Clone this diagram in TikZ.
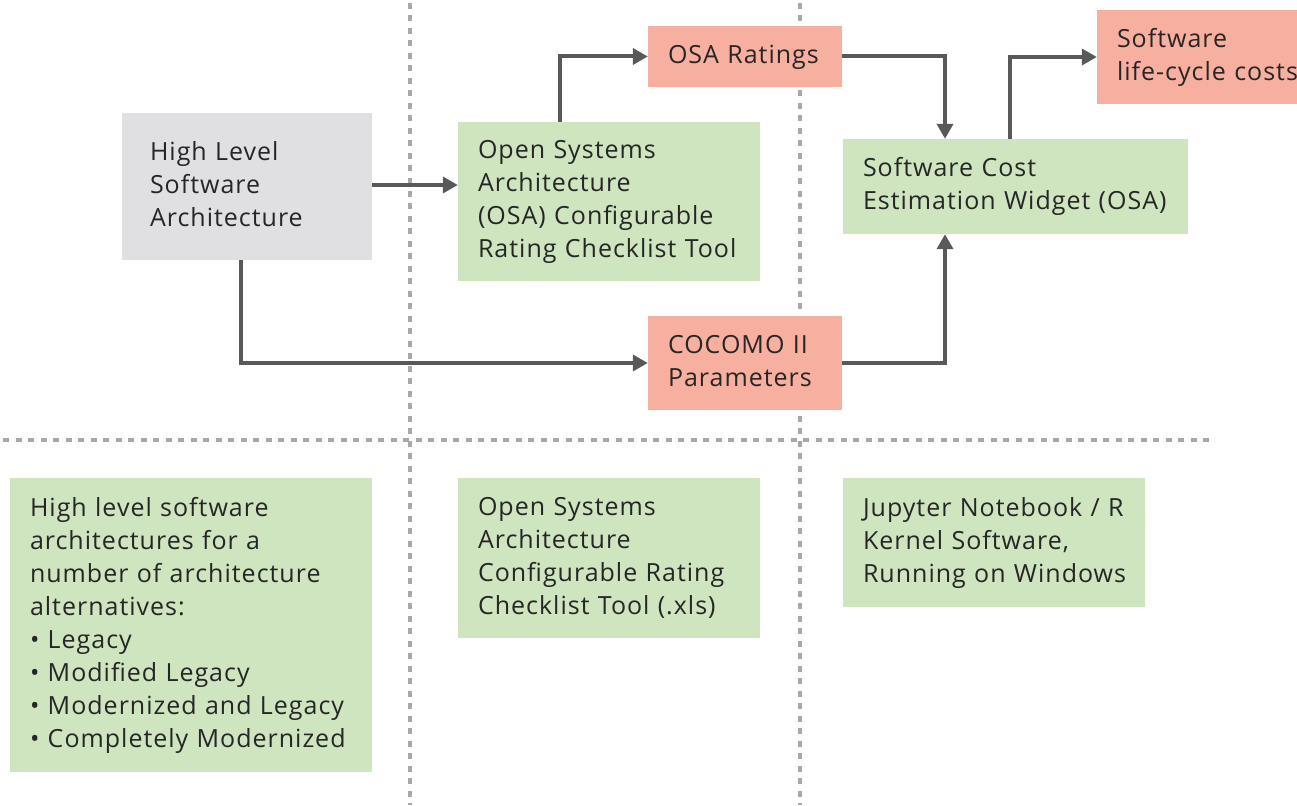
\documentclass[tikz,border=0pt]{standalone}
\usepackage{fontspec}
\setmainfont[LetterSpace=4]{Open Sans}
\usetikzlibrary{arrows.meta}
\definecolor{boxgray}{HTML}{E0E0E2}
\definecolor{boxgreen}{HTML}{CEE5BF}
\definecolor{boxred}{HTML}{F7AF9F}
\definecolor{arrcol}{HTML}{595959}
\definecolor{dotcol}{HTML}{A8A8A8}
\definecolor{txt}{HTML}{262626}
\newcommand{\lines}[1]{\begin{tabular}{@{}l@{}}#1\end{tabular}}
\tikzset{
  box/.style={rectangle, inner xsep=20pt, inner ysep=0pt, align=left, text=txt,
    font=\fontsize{25}{33}\selectfont},
  arr/.style={draw=arrcol, line width=4pt, -{Triangle[length=15pt,width=16pt]}},
  sep/.style={draw=dotcol, line width=4.5pt, dash pattern=on 6pt off 6.5pt},
}
\begin{document}
\begin{tikzpicture}[x=1pt,y=-1pt]
\useasboundingbox (0,0) rectangle (1297,805);
% separators
\draw[sep] (410,3) -- (410,805);
\draw[sep] (800,3) -- (800,805);
\draw[sep] (3,440) -- (1210,440);
% top row
\node[box, fill=boxgray, inner xsep=28pt, minimum width=250pt, minimum height=147pt, text width=194pt] (hl) at (247,186.5) {\lines{High Level\\Software\\Architecture}};
\node[box, fill=boxgreen, minimum width=302pt, minimum height=159pt, text width=262pt] (osa) at (609,201.5) {\lines{Open Systems\\Architecture\\(OSA) Configurable\\Rating Checklist Tool}};
\node[box, fill=boxred, minimum width=194pt, minimum height=61pt, text width=154pt] (rat) at (745,56.5) {\lines{OSA Ratings}};
\node[box, fill=boxred, minimum width=194pt, minimum height=94pt, text width=154pt] (coc) at (745,363) {\lines{COCOMO II\\Parameters}};
\node[box, fill=boxgreen, minimum width=345pt, minimum height=95pt, text width=305pt] (wid) at (1015.5,186.5) {\lines{Software Cost\\Estimation Widget (OSA)}};
\node[box, fill=boxred, minimum width=200pt, minimum height=94pt, text width=160pt] (life) at (1197,57) {\lines{Software\\life-cycle costs}};
% bottom row
\node[box, fill=boxgreen, minimum width=362pt, minimum height=294pt, text width=322pt] (b1) at (191,625) {\lines{High level software\\architectures for a\\number of architecture\\alternatives:\\\textbullet\ Legacy\\\textbullet\ Modified Legacy\\\textbullet\ Modernized and Legacy\\\textbullet\ Completely Modernized}};
\node[box, fill=boxgreen, minimum width=302pt, minimum height=160pt, text width=262pt] (b2) at (609,558) {\lines{Open Systems\\Architecture\\Configurable Rating\\Checklist Tool (.xls)}};
\node[box, fill=boxgreen, minimum width=302pt, minimum height=129pt, text width=262pt] (b3) at (994,542.5) {\lines{Jupyter Notebook / R\\Kernel Software,\\Running on Windows}};
% connectors
\draw[arr] (372,185) coordinate (a1) -- (a1 -| osa.west);
\draw[arr] ([xshift=-49pt]osa.north) |- (rat.west);
\draw[arr] (rat.east) -| ([xshift=-70.5pt]wid.north);
\draw[arr] ([xshift=-6pt]hl.south) |- (coc.west);
\draw[arr] (coc.east) -| ([xshift=-70.5pt]wid.south);
\draw[arr] ([xshift=-5.5pt]wid.north) |- (life.west);
\end{tikzpicture}
\end{document}
